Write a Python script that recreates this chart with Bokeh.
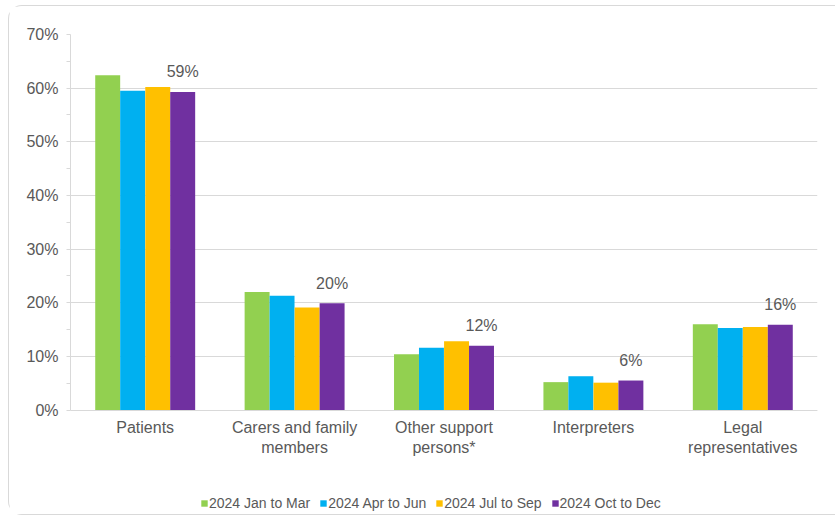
from bokeh.plotting import figure
from bokeh.models import (ColumnDataSource, FactorRange, Range1d, FixedTicker,
                          PrintfTickFormatter, Legend, LegendItem)
from bokeh.transform import dodge
from bokeh.core.properties import value
from bokeh.embed import file_html
from bokeh.resources import INLINE

categories = ["Patients", "Carers and family\nmembers", "Other support\npersons*",
              "Interpreters", "Legal\nrepresentatives"]
series_names = ["2024 Jan to Mar", "2024 Apr to Jun", "2024 Jul to Sep", "2024 Oct to Dec"]
jan_mar = [62.4, 22.0, 10.4, 5.2, 16.0]
apr_jun = [59.5, 21.3, 11.6, 6.3, 15.3]
jul_sep = [60.2, 19.1, 12.8, 5.1, 15.5]
oct_dec = [59.3, 19.9, 12.0, 5.5, 15.9]
oct_dec_labels = ["59%", "20%", "12%", "6%", "16%"]
y_ticks = [0, 10, 20, 30, 40, 50, 60, 70]
y_minor_ticks = [5, 15, 25, 35, 45, 55, 65]
colors = ["#92D050", "#00B0F0", "#FFC000", "#7030A0"]

TEXT = "#595959"
FONT = "Liberation Sans"
GRID = "#d9d9d9"

source = ColumnDataSource(data=dict(cat=categories, s0=jan_mar, s1=apr_jun, s2=jul_sep,
                                    s3=oct_dec, lab=oct_dec_labels))

p = figure(x_range=FactorRange(*categories, range_padding=0), y_range=Range1d(-19.1, 70),
           width=827, height=510, output_backend="svg", toolbar_location=None,
           min_border_left=61, min_border_right=19, min_border_top=28, min_border_bottom=4)
p.styles = {"margin-left": "8px", "margin-top": "5px",
            "border-top": "1px solid #d9d9d9", "border-left": "1px solid #d9d9d9",
            "border-bottom": "1px solid #d9d9d9",
            "border-top-left-radius": "14px", "border-bottom-left-radius": "14px"}
p.outline_line_color = None
p.background_fill_color = "white"
p.border_fill_color = "white"

w = 0.167
offsets = [-0.251, -0.084, 0.084, 0.251]
items = []
for i, (name, col) in enumerate(zip(series_names, colors)):
    r = p.vbar(x=dodge("cat", offsets[i], range=p.x_range), top="s%d" % i, width=w,
               source=source, fill_color=col, line_color=None)
    items.append(LegendItem(label=name, renderers=[r]))

p.text(x=dodge("cat", offsets[3], range=p.x_range), y="s3", text="lab", source=source,
       text_align="center", text_baseline="middle", y_offset=-20,
       text_font=value(FONT), text_font_size="16px", text_color=TEXT)

# y axis
p.yaxis.ticker = FixedTicker(ticks=y_ticks, minor_ticks=y_minor_ticks)
p.yaxis.bounds = (0, 70)
p.yaxis.formatter = PrintfTickFormatter(format="%d%%")
p.yaxis.axis_line_color = GRID
p.yaxis.major_tick_line_color = GRID
p.yaxis.minor_tick_line_color = GRID
p.yaxis.major_tick_out = 4
p.yaxis.major_tick_in = 0
p.yaxis.minor_tick_out = 4
p.yaxis.minor_tick_in = 0
p.yaxis.major_label_standoff = 8
p.yaxis.major_label_text_font = FONT
p.yaxis.major_label_text_font_size = "16px"
p.yaxis.major_label_text_color = TEXT

# x axis, pinned at 0%
p.xaxis.fixed_location = 0
p.xaxis.axis_line_color = GRID
p.xaxis.major_tick_line_color = None
p.xaxis.minor_tick_line_color = None
p.xaxis.major_label_standoff = 3
p.xaxis.major_label_text_font = FONT
p.xaxis.major_label_text_font_size = "16px"
p.xaxis.major_label_text_color = TEXT

p.xgrid.grid_line_color = None
p.ygrid.grid_line_color = GRID
p.ygrid.grid_line_width = 1

legend = Legend(items=items, orientation="horizontal", location=(130, 1),
                glyph_width=8, glyph_height=8, label_standoff=1, spacing=9,
                padding=0, margin=0, border_line_color=None, background_fill_alpha=0,
                label_text_font=FONT, label_text_font_size="14px", label_text_color=TEXT)
p.add_layout(legend, "center")

open("out.html", "w").write(file_html(p, INLINE))
